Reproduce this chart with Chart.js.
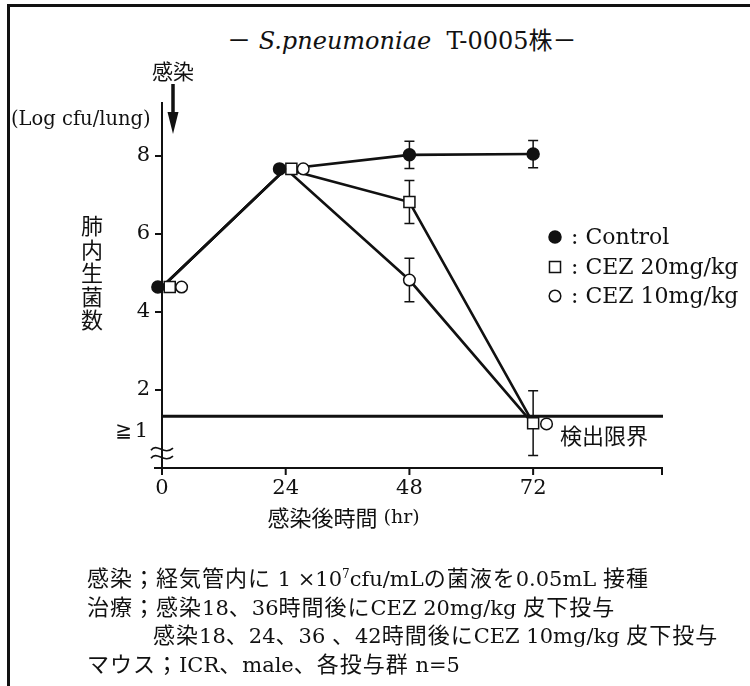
<html>
<head>
<script src="https://cdn.jsdelivr.net/npm/chart.js"></script>
<style>
body { margin:0; background:#fff; }
#wrap { position:relative; width:750px; height:686px; overflow:hidden; }
#frame { position:absolute; left:7px; top:4px; width:800px; height:800px; border-left:3px solid #111; border-top:3px solid #111; }
.txt { position:absolute; font-family:"DejaVu Serif","Noto Sans CJK JP",serif; color:#111; white-space:nowrap; }
#title { left:227px; top:21px; font-size:24px; }
#notes { left:87px; top:562px; font-size:21px; }
#notes div { height:28.7px; line-height:28.7px; }
#notes .j { font-family:"Noto Sans CJK JP",sans-serif; font-size:22px; letter-spacing:1px; }
#notes sup { font-size:12px; line-height:0; }
</style>

<script>

// data (log cfu/lung)
const times = [0, 24, 48, 72];
const ctrlVals = [4.64, 7.67, 8.03, 8.05];
const ctrlErr = [0, 0, 0.35, 0.35];
const cez20Vals = [4.64, 7.67, 6.82, 1.15];
const cez20Err = [0, 0, 0.55, 0.83];
const cez10Vals = [4.64, 7.67, 4.82, 1.13];
const cez10Err = [0, 0, 0.56, 0];

// where the markers sit in time (they are set side by side at 0 and 24 hr)
const ctrlMarkX = [-0.8, 22.8, 48, 72];
const cez20MarkX = [1.5, 25.1, 48, 72];
const cez10MarkX = [3.8, 27.4, 48, 74.6];

const xTicks = [0, 24, 48, 72];
const yTicks = [2, 4, 6, 8];
const detectLimit = 1.33;
const seriesNames = ['Control', 'CEZ 20mg/kg', 'CEZ 10mg/kg'];

const INK = '#111';
const SERIF = '"DejaVu Serif", "Noto Sans CJK JP", serif';
const CJK = '"Noto Sans CJK JP", sans-serif';

function pts(xs, ys) {
  return xs.map((x, i) => ({x: x, y: ys[i]}));
}

function lineSet(vals) {
  return { data: pts(times, vals), borderColor: INK, borderWidth: 2.6, pointRadius: 0, order: 1, clip: false };
}

function markSet(xs, vals, errs, style, fill, r) {
  return { data: pts(xs, vals), errs: errs, showLine: false, pointStyle: style, pointRadius: r,
           backgroundColor: fill, borderColor: INK, borderWidth: 1.5, order: 0, clip: false };
}

const decor = {
  id: 'decor',
  beforeDatasetsDraw(chart) {
    const ctx = chart.ctx;
    const xs = chart.scales.x, ys = chart.scales.y;
    const x0 = xs.getPixelForValue(0), xEnd = xs.getPixelForValue(xs.max);
    const y0 = ys.getPixelForValue(0), yTop = ys.getPixelForValue(ys.max);
    ctx.save();
    ctx.strokeStyle = INK;
    ctx.fillStyle = INK;
    ctx.lineWidth = 2;
    ctx.beginPath();
    ctx.moveTo(x0, yTop); ctx.lineTo(x0, y0 + 7);
    ctx.moveTo(x0 - 8, y0); ctx.lineTo(xEnd, y0); ctx.lineTo(xEnd, y0 + 7);
    xTicks.forEach(t => { const px = xs.getPixelForValue(t); ctx.moveTo(px, y0); ctx.lineTo(px, y0 + 7); });
    yTicks.forEach(v => { const py = ys.getPixelForValue(v); ctx.moveTo(x0, py); ctx.lineTo(x0 - 7, py); });
    ctx.stroke();

    // axis break, two small waves across the y axis
    ctx.lineWidth = 1.7;
    [-4, 4].forEach(d => {
      const yb = ys.getPixelForValue(0.38) + d;
      ctx.beginPath();
      ctx.moveTo(x0 - 11, yb + 1);
      ctx.bezierCurveTo(x0 - 5, yb - 7, x0 + 2, yb + 7, x0 + 11, yb - 1);
      ctx.stroke();
    });

    // detection limit
    ctx.lineWidth = 3;
    const yl = ys.getPixelForValue(detectLimit);
    ctx.beginPath(); ctx.moveTo(x0, yl); ctx.lineTo(xEnd + 1, yl); ctx.stroke();

    // error bars
    ctx.lineWidth = 1.5;
    chart.data.datasets.forEach((ds, di) => {
      if (!ds.errs) return;
      chart.getDatasetMeta(di).data.forEach((el, i) => {
        const e = ds.errs[i];
        if (!e) return;
        const v = ds.data[i].y;
        const a = ys.getPixelForValue(v + e), b = ys.getPixelForValue(v - e);
        ctx.beginPath();
        ctx.moveTo(el.x, a); ctx.lineTo(el.x, b);
        ctx.moveTo(el.x - 5, a); ctx.lineTo(el.x + 5, a);
        ctx.moveTo(el.x - 5, b); ctx.lineTo(el.x + 5, b);
        ctx.stroke();
      });
    });

    // tick labels
    ctx.font = '21px ' + SERIF;
    ctx.textBaseline = 'middle';
    ctx.textAlign = 'right';
    yTicks.forEach(v => ctx.fillText(String(v), x0 - 12, ys.getPixelForValue(v)));
    ctx.fillText('1', x0 - 14, ys.getPixelForValue(1) + 3);
    ctx.font = '20px "DejaVu Sans", sans-serif';
    ctx.fillText('\u2267', x0 - 30, ys.getPixelForValue(1) + 3);
    ctx.font = '21px ' + SERIF;
    ctx.textAlign = 'center';
    xTicks.forEach(t => ctx.fillText(String(t), xs.getPixelForValue(t), y0 + 21));

    // axis titles
    ctx.font = '22px ' + CJK;
    const xt = (x0 + xs.getPixelForValue(72)) / 2;
    ctx.textAlign = 'right';
    ctx.fillText('感染後時間', xt + 30, y0 + 50);
    ctx.font = '19px ' + SERIF;
    ctx.textAlign = 'left';
    ctx.fillText(' (hr)', xt + 30, y0 + 50);
    ctx.font = '19.5px ' + SERIF;
    ctx.fillText('(Log cfu/lung)', 11, yTop + 18);
    ctx.font = '22px ' + CJK;
    ctx.textAlign = 'center';
    '肺内生菌数'.split('').forEach((c, i) => ctx.fillText(c, 92, 226 + i * 23.5));

    // infection arrow
    const ax = x0 + 11;
    ctx.font = '21px ' + CJK;
    ctx.fillText('感染', ax, 71);
    ctx.lineWidth = 3.5;
    ctx.beginPath(); ctx.moveTo(ax, 84); ctx.lineTo(ax, 118); ctx.stroke();
    ctx.beginPath(); ctx.moveTo(ax - 5.5, 112); ctx.lineTo(ax + 5.5, 112); ctx.lineTo(ax, 134); ctx.closePath(); ctx.fill();

    // limit label
    ctx.font = '22px ' + CJK;
    ctx.textAlign = 'left';
    ctx.fillText('検出限界', 560, yl + 20);

    // legend
    const legY = [237, 267, 296];
    const metas = [3, 4, 5];
    ctx.font = '22px ' + SERIF;
    seriesNames.forEach((n, i) => {
      const ds = chart.data.datasets[metas[i]];
      ctx.fillStyle = ds.backgroundColor;
      ctx.lineWidth = 1.5;
      Chart.helpers.drawPoint(ctx, {pointStyle: ds.pointStyle, radius: ds.pointRadius, borderWidth: 1.5}, 555, legY[i]);
      if (ds.backgroundColor === INK) ctx.fill();
      ctx.fillStyle = INK;
      ctx.fillText(': ' + n, 571, legY[i] + 1);
    });
    ctx.restore();
  }
};

</script>
</head>
<body>
<div id="wrap">
  <div id="frame"></div>
  <div class="txt" id="title">－ <i>S.pneumoniae</i>&nbsp; T-0005<span style="font-family:'Noto Sans CJK JP'">株</span>－</div>
  <canvas id="chart" width="750" height="686" style="position:absolute;left:0;top:0;"></canvas>
  <div class="txt" id="notes">
    <div><span class="j">感染；経気管内に</span> 1 ×10<sup>7</sup>cfu/mL<span class="j">の菌液を</span>0.05mL <span class="j">接種</span></div>
    <div><span class="j">治療；感染</span>18<span class="j">、</span>36<span class="j">時間後に</span>CEZ 20mg/kg <span class="j">皮下投与</span></div>
    <div style="padding-left:66px"><span class="j">感染</span>18<span class="j">、</span>24<span class="j">、</span>36 <span class="j">、</span>42<span class="j">時間後に</span>CEZ 10mg/kg <span class="j">皮下投与</span></div>
    <div><span class="j">マウス；</span>ICR<span class="j">、</span>male<span class="j">、各投与群</span> n=5</div>
  </div>
</div>

<script>
const chart = new Chart(document.getElementById('chart'), {
  type: 'line',
  data: {
    datasets: [
      lineSet(ctrlVals),
      lineSet(cez20Vals),
      lineSet(cez10Vals),
      markSet(ctrlMarkX, ctrlVals, ctrlErr, 'circle', INK, 6),
      markSet(cez20MarkX, cez20Vals, cez20Err, 'rect', '#fff', 7.8),
      markSet(cez10MarkX, cez10Vals, cez10Err, 'circle', '#fff', 5.8)
    ]
  },
  options: {
    responsive: false,
    animation: false,
    events: [],
    layout: { padding: { left: 162, right: 88, top: 102, bottom: 218 } },
    plugins: { legend: { display: false }, tooltip: { enabled: false } },
    scales: {
      x: { type: 'linear', min: 0, max: 97, display: false },
      y: { min: 0, max: 9.385, display: false }
    }
  },
  plugins: [decor]
});
</script>
</body>
</html>
